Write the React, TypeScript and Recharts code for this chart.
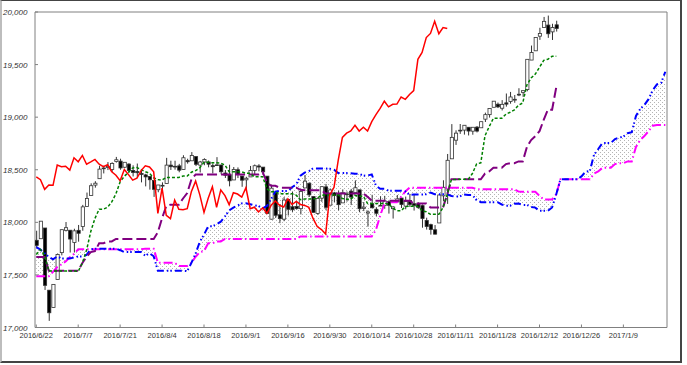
import React from "react";
import {
  ComposedChart,
  XAxis,
  YAxis,
  Bar,
  Line,
  Area,
  ReferenceArea,
} from "recharts";

// x tick positions (trading day index) and their labels
const dateTicks = [0, 10, 20, 30, 40, 50, 60, 70, 80, 90, 100, 110, 120, 130, 140];
const dateLabels = [
  "2016/6/22", "2016/7/7", "2016/7/21", "2016/8/4", "2016/8/18",
  "2016/9/1", "2016/9/16", "2016/9/30", "2016/10/14", "2016/10/28",
  "2016/11/11", "2016/11/28", "2016/12/12", "2016/12/26", "2017/1/9",
];
const yTicks = [17000, 17500, 18000, 18500, 19000, 19500, 20000];

// daily candles, 2016/6/22 .. 2016/12/16
const open = [
  17829, 17844, 17946, 17355, 17190, 17456, 17712, 17924, 17925, 17808,
  17924, 17960, 18150, 18255, 18354, 18415, 18513, 18521, 18503, 18578,
  18582, 18524, 18554, 18493, 18483, 18465, 18451, 18436, 18398, 18310,
  18352, 18370, 18544, 18531, 18537, 18503, 18587, 18585, 18625, 18544,
  18573, 18574, 18539, 18545, 18545, 18469, 18453, 18403, 18500, 18440,
  18404, 18432, 18492, 18536, 18525, 18439, 18030, 18282, 18071, 18030,
  18217, 18148, 18150, 18130, 18327, 18371, 18245, 18085, 18230, 18337,
  18163, 18280, 18264, 18185, 18270, 18296, 18282, 18309, 18132, 18088,
  18177, 18124, 18160, 18160, 18197, 18130, 18194, 18231, 18154, 18208,
  18177, 18176, 18159, 18017, 17978, 17929, 17994, 18252, 18317, 18604,
  18781, 18876, 18877, 18904, 18867, 18905, 18899, 18981, 19024, 19094,
  19123, 19085, 19136, 19149, 19162, 19218, 19236, 19262, 19543, 19631,
  19770, 19853, 19876, 19811, 19878,
];
const high = [
  17920, 18011, 17946, 17355, 17410, 17704, 17930, 18003, 17925, 17939,
  17975, 18166, 18283, 18371, 18391, 18538, 18538, 18573, 18571, 18622,
  18605, 18571, 18562, 18542, 18559, 18495, 18461, 18436, 18398, 18356,
  18380, 18613, 18586, 18586, 18556, 18638, 18605, 18668, 18625, 18584,
  18609, 18588, 18560, 18620, 18548, 18497, 18548, 18526, 18522, 18440,
  18433, 18536, 18550, 18553, 18525, 18439, 18359, 18282, 18172, 18240,
  18217, 18293, 18199, 18309, 18450, 18381, 18245, 18236, 18341, 18365,
  18322, 18290, 18301, 18313, 18293, 18318, 18399, 18309, 18193, 18114,
  18262, 18144, 18248, 18252, 18198, 18154, 18260, 18232, 18245, 18270,
  18270, 18191, 18170, 18044, 17987, 17974, 18264, 18400, 18650, 18934,
  18875, 18935, 18925, 18904, 18904, 18916, 18957, 19043, 19084, 19153,
  19139, 19162, 19225, 19240, 19211, 19275, 19252, 19550, 19681, 19757,
  19850, 19953, 19966, 19888, 19917,
];
const low = [
  17765, 17844, 17357, 17063, 17190, 17456, 17686, 17913, 17713, 17713,
  17816, 17920, 18150, 18255, 18330, 18415, 18465, 18497, 18479, 18568,
  18500, 18517, 18472, 18436, 18421, 18380, 18342, 18311, 18242, 18286,
  18315, 18370, 18498, 18501, 18476, 18503, 18558, 18585, 18535, 18474,
  18543, 18523, 18465, 18545, 18457, 18422, 18342, 18403, 18421, 18338,
  18315, 18432, 18449, 18485, 18451, 18085, 18028, 18042, 17992, 18011,
  18065, 18099, 18120, 18075, 18327, 18241, 18093, 18073, 18195, 18115,
  18163, 18192, 18114, 18185, 18197, 18164, 18282, 18096, 18107, 17959,
  18138, 18058, 18160, 18129, 18083, 18036, 18194, 18136, 18124, 18146,
  18112, 18128, 17949, 17931, 17883, 17884, 17994, 18200, 18175, 18604,
  18736, 18841, 18834, 18826, 18833, 18855, 18899, 18954, 18996, 19094,
  19087, 19064, 19100, 19128, 19137, 19200, 19193, 19246, 19543, 19631,
  19735, 19853, 19754, 19734, 19814,
];
const close = [
  17781, 18011, 17401, 17140, 17410, 17695, 17930, 17949, 17841, 17919,
  17896, 18147, 18227, 18348, 18372, 18506, 18517, 18533, 18559, 18595,
  18517, 18571, 18493, 18474, 18472, 18456, 18432, 18405, 18314, 18355,
  18352, 18544, 18529, 18533, 18496, 18614, 18576, 18636, 18552, 18574,
  18598, 18553, 18529, 18547, 18481, 18448, 18395, 18503, 18454, 18401,
  18419, 18492, 18538, 18526, 18480, 18085, 18325, 18067, 18035, 18212,
  18124, 18120, 18130, 18294, 18392, 18261, 18095, 18228, 18339, 18143,
  18308, 18254, 18168, 18281, 18269, 18240, 18329, 18129, 18144, 18099,
  18138, 18086, 18162, 18203, 18162, 18146, 18223, 18169, 18199, 18170,
  18161, 18142, 18037, 17960, 17931, 17888, 18260, 18333, 18590, 18808,
  18848, 18869, 18923, 18868, 18904, 18868, 18957, 19024, 19083, 19152,
  19098, 19122, 19124, 19192, 19170, 19216, 19252, 19550, 19615, 19757,
  19796, 19911, 19793, 19852, 19843,
];

// conversion line (green)
const tenkan = [
  17695, 17741, 17684, 17537, 17537, 17537, 17537, 17537, 17537, 17537,
  17533, 17614, 17736, 17913, 18038, 18125, 18125, 18143, 18194, 18271,
  18386, 18438, 18476, 18518, 18521, 18501, 18482, 18466, 18423, 18406,
  18402, 18427, 18427, 18427, 18427, 18440, 18440, 18477, 18491, 18519,
  18571, 18571, 18566, 18566, 18562, 18545, 18481, 18481, 18481, 18479,
  18467, 18467, 18432, 18434, 18434, 18319, 18290, 18290, 18272, 18272,
  18272, 18272, 18258, 18215, 18221, 18221, 18221, 18230, 18257, 18261,
  18261, 18261, 18261, 18227, 18219, 18219, 18256, 18247, 18247, 18179,
  18179, 18179, 18179, 18179, 18179, 18134, 18110, 18110, 18149, 18153,
  18153, 18153, 18110, 18100, 18076, 18076, 18076, 18141, 18266, 18408,
  18408, 18409, 18409, 18409, 18464, 18555, 18566, 18823, 18910, 18989,
  18989, 18989, 19029, 19047, 19069, 19114, 19135, 19307, 19372, 19410,
  19475, 19540, 19551, 19579, 19579,
];
// base line (purple)
const kijun = [
  17670, 17670, 17670, 17540, 17540, 17540, 17540, 17540, 17540, 17540,
  17540, 17614, 17673, 17717, 17727, 17800, 17800, 17818, 17818, 17842,
  17842, 17842, 17842, 17842, 17842, 17842, 17842, 17842, 17842, 17906,
  18039, 18154, 18168, 18168, 18168, 18227, 18279, 18409, 18455, 18455,
  18455, 18455, 18455, 18455, 18455, 18455, 18455, 18455, 18455, 18455,
  18455, 18455, 18455, 18455, 18477, 18377, 18348, 18348, 18330, 18330,
  18330, 18330, 18330, 18309, 18306, 18306, 18306, 18306, 18306, 18273,
  18273, 18273, 18273, 18273, 18273, 18273, 18273, 18273, 18273, 18242,
  18205, 18205, 18205, 18205, 18205, 18205, 18205, 18205, 18205, 18205,
  18179, 18179, 18179, 18179, 18141, 18141, 18141, 18142, 18267, 18409,
  18409, 18409, 18409, 18409, 18409, 18409, 18409, 18463, 18484, 18518,
  18518, 18518, 18554, 18562, 18562, 18579, 18579, 18717, 18782, 18820,
  18867, 18974, 19071, 19071, 19285,
];
// leading span A (blue), already shifted 26 days forward
const senkouA = [
  17765, 17740, 17705, 17670, 17648, 17676, 17657, 17657, 17657, 17665,
  17676, 17676, 17690, 17743, 17750, 17750, 17750, 17750, 17750, 17750,
  17735, 17717, 17717, 17717, 17717, 17717, 17683, 17706, 17677, 17539,
  17539, 17539, 17539, 17539, 17539, 17539, 17537, 17614, 17705, 17815,
  17883, 17963, 17963, 17981, 18006, 18057, 18114, 18140, 18159, 18180,
  18182, 18172, 18162, 18154, 18133, 18156, 18221, 18291, 18298, 18298,
  18298, 18334, 18360, 18443, 18473, 18487, 18513, 18513, 18511, 18511,
  18509, 18500, 18468, 18468, 18468, 18467, 18461, 18461, 18444, 18445,
  18456, 18348, 18319, 18319, 18301, 18301, 18301, 18301, 18294, 18262,
  18264, 18264, 18264, 18268, 18282, 18267, 18267, 18267, 18267, 18250,
  18246, 18246, 18265, 18260, 18260, 18211, 18192, 18192, 18192, 18192,
  18192, 18170, 18158, 18158, 18177, 18179, 18166, 18166, 18145, 18140,
  18109, 18109, 18109, 18142, 18267, 18409, 18409, 18409, 18409, 18409,
  18437, 18482, 18488, 18643, 18697, 18754, 18754, 18754, 18792, 18805,
  18816, 18847, 18857, 19012, 19077, 19115, 19171, 19257, 19311, 19325,
  19432,
];
// leading span B (magenta), already shifted 26 days forward
const senkouB = [
  17488, 17488, 17488, 17488, 17530, 17575, 17600, 17628, 17667, 17700,
  17743, 17743, 17743, 17743, 17743, 17743, 17743, 17743, 17743, 17743,
  17743, 17743, 17743, 17743, 17743, 17743, 17750, 17750, 17750, 17616,
  17616, 17616, 17616, 17616, 17585, 17585, 17585, 17615, 17673, 17717,
  17727, 17800, 17800, 17818, 17818, 17842, 17842, 17842, 17842, 17842,
  17842, 17842, 17842, 17842, 17842, 17842, 17842, 17842, 17842, 17842,
  17842, 17842, 17842, 17866, 17866, 17866, 17866, 17866, 17866, 17866,
  17866, 17866, 17866, 17866, 17866, 17866, 17866, 17866, 17866, 17866,
  17866, 17929, 18062, 18177, 18191, 18191, 18191, 18242, 18294, 18330,
  18330, 18330, 18330, 18330, 18330, 18330, 18330, 18330, 18330, 18330,
  18330, 18330, 18330, 18330, 18330, 18314, 18314, 18314, 18314, 18314,
  18314, 18314, 18314, 18314, 18314, 18292, 18290, 18290, 18290, 18290,
  18252, 18218, 18218, 18218, 18267, 18409, 18409, 18409, 18409, 18409,
  18409, 18409, 18409, 18463, 18484, 18518, 18518, 18518, 18554, 18562,
  18562, 18579, 18579, 18717, 18782, 18820, 18867, 18918, 18925, 18925,
  18925,
];

const LAG = 26; // lagging span = close drawn 26 days back

const rows = senkouA.map((a, j) => {
  const has = j < close.length;
  return {
    j,
    range: has ? [low[j], high[j]] : null,
    o: has ? open[j] : null,
    h: has ? high[j] : null,
    l: has ? low[j] : null,
    c: has ? close[j] : null,
    tenkan: has ? tenkan[j] : null,
    kijun: has ? kijun[j] : null,
    chikou: j + LAG < close.length ? close[j + LAG] : null,
    a,
    b: senkouB[j],
    cloud: [a, senkouB[j]],
  };
});

const FONT = "'Liberation Sans', Arial, sans-serif";

function Candle(props: any) {
  const { x, y, width, height, payload } = props;
  if (!payload || payload.h == null || payload.h === payload.l) return <g />;
  const top = Math.min(y, y + height);
  const hgt = Math.abs(height);
  const k = hgt / (payload.h - payload.l);
  const cx = x + width / 2;
  const yO = top + (payload.h - payload.o) * k;
  const yC = top + (payload.h - payload.c) * k;
  const up = payload.c >= payload.o;
  const bodyTop = Math.min(yO, yC);
  const bodyH = Math.max(Math.abs(yO - yC), 0.8);
  return (
    <g>
      <line x1={cx} x2={cx} y1={top} y2={top + hgt} stroke="#333" strokeWidth={1} />
      <rect
        x={cx - 1.6}
        y={bodyTop}
        width={3.2}
        height={bodyH}
        fill={up ? "#ffffff" : "#000000"}
        stroke="#333"
        strokeWidth={0.8}
      />
    </g>
  );
}

function YTick({ x, y, payload }: any) {
  return (
    <g>
      <line x1={x} x2={x + 3} y1={y} y2={y} stroke="#808080" />
      <text
        x={x - 32}
        y={y + 3}
        fontSize={8}
        fontStyle="italic"
        fill="#333"
        fontFamily={FONT}
      >
        {Number(payload.value).toLocaleString("en-US")}
      </text>
    </g>
  );
}

function XTick({ x, y, payload }: any) {
  const idx = dateTicks.indexOf(payload.value);
  return (
    <g>
      <line x1={x} x2={x} y1={y} y2={y - 3} stroke="#808080" />
      <text
        x={x}
        y={y + 10.5}
        textAnchor="middle"
        fontSize={7.5}
        fill="#333"
        fontFamily={FONT}
      >
        {dateLabels[idx]}
      </text>
    </g>
  );
}

export default function App() {
  return (
    <div style={{ position: "absolute", left: 0, top: 0, width: 687, height: 365, background: "#fff" }}>
      <svg width={0} height={0} style={{ position: "absolute" }}>
        <defs>
          <pattern id="dots" width={4} height={4} patternUnits="userSpaceOnUse">
            <rect x={0} y={0} width={1} height={1} fill="#b4b4b4" />
            <rect x={2} y={2} width={1} height={1} fill="#b4b4b4" />
          </pattern>
        </defs>
      </svg>
      <div
        style={{
          position: "absolute",
          left: 0,
          top: 0,
          width: 682,
          height: 363,
          boxSizing: "border-box",
          borderTop: "1px solid #444",
          borderLeft: "2px solid #bdbdbd",
          borderRight: "2px solid #444",
          borderBottom: "2px solid #444",
        }}
      />
      <div style={{ position: "absolute", left: 0, top: 0 }}>
        <ComposedChart
          width={687}
          height={365}
          data={rows}
          margin={{ top: 12, right: 20, bottom: 0, left: 0 }}
        >
          <XAxis
            type="number"
            dataKey="j"
            domain={[-0.3, 150.4]}
            ticks={dateTicks}
            interval={0}
            allowDataOverflow
            height={37.5}
            tickSize={0}
            tickMargin={0}
            axisLine={false}
            tickLine={false}
            tick={(p: any) => <XTick {...p} />}
          />
          <YAxis
            type="number"
            domain={[17000, 20000]}
            ticks={yTicks}
            allowDataOverflow
            width={35}
            tickSize={0}
            tickMargin={0}
            axisLine={false}
            tickLine={false}
            tick={(p: any) => <YTick {...p} />}
          />
          <Area
            dataKey="cloud"
            stroke="none"
            fill="url(#dots)"
            fillOpacity={1}
            isAnimationActive={false}
          />
          <Line
            dataKey="b"
            stroke="#ff00ff"
            strokeWidth={2}
            strokeDasharray="9 3 1.5 3"
            dot={false}
            isAnimationActive={false}
          />
          <Line
            dataKey="a"
            stroke="#0000ff"
            strokeWidth={2}
            strokeDasharray="7 3 1.5 2 1.5 3"
            dot={false}
            isAnimationActive={false}
          />
          <Line
            dataKey="kijun"
            stroke="#800080"
            strokeWidth={2}
            strokeDasharray="10 4"
            dot={false}
            isAnimationActive={false}
          />
          <Line
            dataKey="tenkan"
            stroke="#008000"
            strokeWidth={1.5}
            strokeDasharray="3 2"
            dot={false}
            isAnimationActive={false}
          />
          <Bar
            dataKey="range"
            barSize={3}
            shape={(p: any) => <Candle {...p} />}
            isAnimationActive={false}
          />
          <Line
            dataKey="chikou"
            stroke="#ff0000"
            strokeWidth={1.5}
            dot={false}
            isAnimationActive={false}
          />
          <ReferenceArea
            x1={-0.3}
            x2={150.4}
            y1={17000}
            y2={20000}
            fill="none"
            stroke="#808080"
            strokeWidth={1}
            ifOverflow="visible"
          />
        </ComposedChart>
      </div>
    </div>
  );
}
